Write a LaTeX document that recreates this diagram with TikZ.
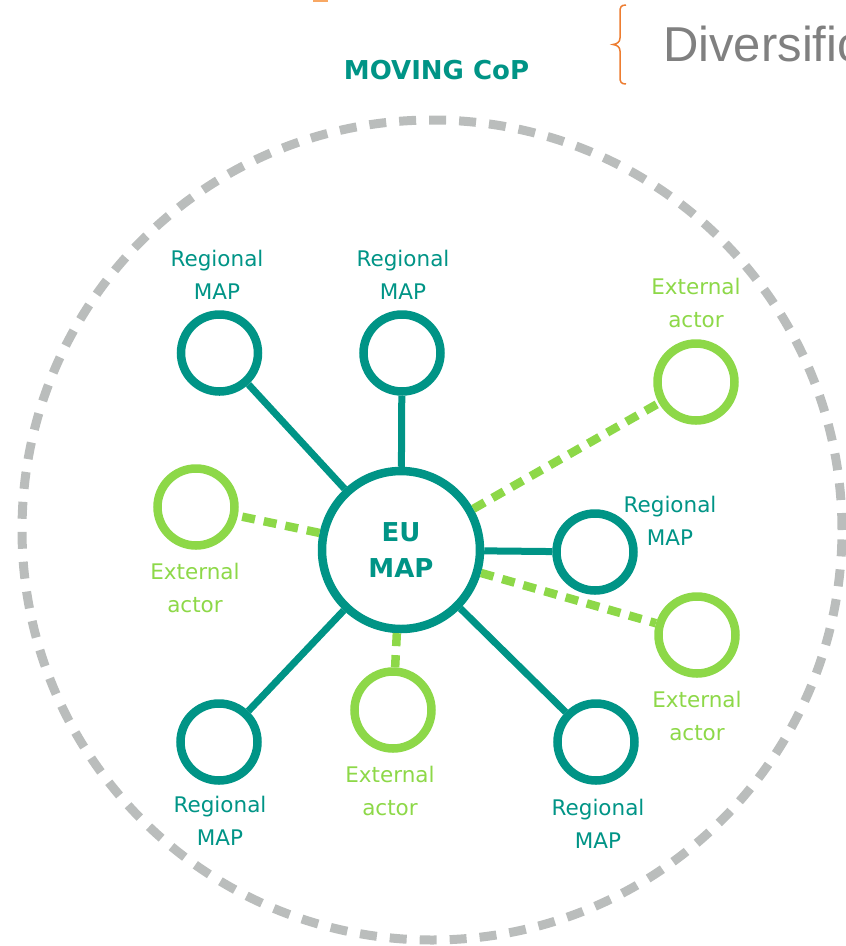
\documentclass[tikz,border=0pt]{standalone}
\usepackage{fontspec}
\setmainfont{DejaVu Sans}
\newfontfamily\divfont{Liberation Sans}
\definecolor{mteal}{RGB}{0,148,134}
\definecolor{mgreen}{RGB}{141,216,72}
\definecolor{mgray}{RGB}{186,189,188}
\definecolor{dgray}{RGB}{128,128,128}
\definecolor{morange}{RGB}{237,125,49}
\definecolor{lorange}{RGB}{248,168,100}
\begin{document}
\begin{tikzpicture}[x=1pt,y=-1pt,
  regional/.style={circle, draw=mteal, line width=8.5pt, minimum size=77pt, inner sep=0pt},
  external/.style={circle, draw=mgreen, line width=8.5pt, minimum size=77pt, inner sep=0pt},
  eumap/.style={circle, draw=mteal, line width=8.5pt, minimum size=158pt, inner sep=0pt, text=mteal,
    font=\bfseries\fontsize{26}{36}\selectfont, align=center},
  conn/.style={draw=mteal, line width=7pt},
  extconn/.style={draw=mgreen, line width=8.5pt, dash pattern=on 13pt off 9pt},
  rlab/.style={font=\fontsize{21.5}{33}\selectfont, align=center, text=mteal, inner sep=0pt},
  elab/.style={font=\fontsize{21.5}{33}\selectfont, align=center, text=mgreen, inner sep=0pt},
  cop/.style={draw=mgray, line width=9pt, dash pattern=on 17pt off 13pt}
]
\useasboundingbox (0,0) rectangle (846,946);
\clip (0,0) rectangle (846,946);

% outer community circle
\draw[cop] (432,530) circle[radius=410pt];

% title and side note
\node[anchor=base, text=mteal, font=\bfseries\fontsize{26}{30}\selectfont, inner sep=0pt] (title) at (436.5,79) {MOVING CoP};
\node[anchor=base west, text=dgray, font=\divfont\fontsize{49}{49}\selectfont, inner sep=0pt] (div) at (663,61) {Diversific};
\draw[morange, line width=1.5pt] (626,5) .. controls (621,5) and (620,7) .. (620,12) -- (620,38)
  .. controls (620,42) and (617,44) .. (613,44.5) .. controls (617,45) and (620,47) .. (620,51)
  -- (620,77) .. controls (620,82) and (621,84) .. (626,84);
\fill[lorange] (313,0) rectangle (328,2);

% central node
\node[eumap] (eu) at (401,550) {EU\\MAP};

% regional MAPs
\node[regional] (r1) at (219.5,353) {};
\node[regional] (r2) at (402,353) {};
\node[regional] (r3) at (595,552) {};
\node[regional] (r4) at (219,742) {};
\node[regional] (r5) at (596,742) {};

% external actors
\node[external] (e1) at (696,382) {};
\node[external] (e2) at (196,507) {};
\node[external] (e3) at (697,635) {};
\node[external] (e4) at (393,710) {};

% connectors
\draw[conn] (eu) -- (r1);
\draw[conn] (eu) -- (r2);
\draw[conn] (eu) -- (r3);
\draw[conn] (eu) -- (r4);
\draw[conn] (eu) -- (r5);
\draw[extconn] (eu) -- (e1);
\draw[extconn] (eu) -- (e2);
\draw[extconn] (eu) -- (e3);
\draw[extconn] (eu) -- (e4);

% labels
\node[rlab] (l1) at (217,274.5) {Regional\\MAP};
\node[rlab] (l2) at (403,274.5) {Regional\\MAP};
\node[rlab] (l3) at (670,520.5) {Regional\\MAP};
\node[rlab] (l4) at (220,820.5) {Regional\\MAP};
\node[rlab] (l5) at (598,823.5) {Regional\\MAP};
\node[elab] (m1) at (696,302.5) {External\\actor};
\node[elab] (m2) at (195,587.5) {External\\actor};
\node[elab] (m3) at (697,715.5) {External\\actor};
\node[elab] (m4) at (390,790.5) {External\\actor};
\end{tikzpicture}
\end{document}
